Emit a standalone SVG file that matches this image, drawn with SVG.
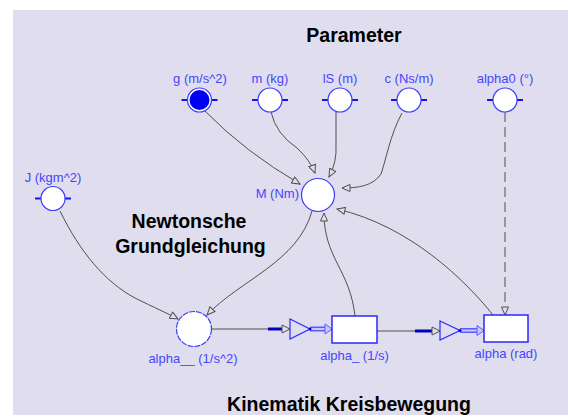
<svg xmlns="http://www.w3.org/2000/svg" width="568" height="419" viewBox="0 0 568 419">
<style>
.lbl{font-family:"Liberation Sans",Arial,sans-serif;font-size:13px;fill:#4646ff;text-anchor:middle}
.ttl{font-family:"Liberation Sans",Arial,sans-serif;font-size:19.5px;font-weight:bold;fill:#000;text-anchor:middle}
.par{fill:#fff;stroke:#3c3cff;stroke-width:1.2}
.stub{stroke:#1414e6;stroke-width:2}
.con{fill:none;stroke:#505050;stroke-width:1}
.pipeo{stroke:#5a5aff;stroke-width:5}
.pipei{stroke:#c8c8ff;stroke-width:2}
.thick{stroke:#0000b4;stroke-width:3}
.valve{fill:#dfddee;stroke:#2828ff;stroke-width:1.2}
.stock{fill:#fff;stroke:#2828ff;stroke-width:1.5}
</style>
<defs>
<marker id="ah" markerWidth="10" markerHeight="8" refX="9" refY="4" orient="auto" markerUnits="userSpaceOnUse">
<path d="M1,0.5 L9,4 L1,7.5 z" fill="#dfddee" stroke="#505050" stroke-width="1"/>
</marker>
</defs>
<rect x="13" y="10" width="555" height="405" fill="#dfddee"/>
<text class="ttl" x="354" y="42">Parameter</text>
<text class="ttl" x="189" y="228">Newtonsche</text>
<text class="ttl" x="190.5" y="252.5">Grundgleichung</text>
<text class="ttl" x="349" y="411">Kinematik Kreisbewegung</text>
<g id="connectors">
<path class="con" d="M205,111 Q245,152 300,184" marker-end="url(#ah)"/>
<path class="con" d="M271,112 Q276,134 297,148 Q310,160 315,173" marker-end="url(#ah)"/>
<path class="con" d="M336,112 L336,145 Q337,162 329,177" marker-end="url(#ah)"/>
<path class="con" d="M402,113 C390,135 386,160 381,174 C373,186 358,188 342,188" marker-end="url(#ah)"/>
<path class="con" d="M505,112 L505,315" stroke-dasharray="10,5" marker-end="url(#ah)"/>
<path class="con" d="M312,211 C298,262 240,280 207,315" marker-end="url(#ah)"/>
<path class="con" d="M60,211 C80,252 105,282 135,298 C155,308 167,313 178,319" marker-end="url(#ah)"/>
<path class="con" d="M355,316 C350,270 324,258 324,213" marker-end="url(#ah)"/>
<path class="con" d="M493,315 C465,280 410,226 337,209" marker-end="url(#ah)"/>
<line class="con" x1="211" y1="329" x2="270" y2="329"/>
<line class="thick" x1="268" y1="329" x2="283" y2="329"/>
<path d="M282,325 L290,329 L282,333 z" fill="#dfddee" stroke="#505050"/>
<line class="pipeo" x1="310" y1="329" x2="326" y2="329"/>
<line class="pipei" x1="310" y1="329" x2="326" y2="329"/>
<path d="M325,324 L332,329 L325,334 z" fill="#c8c8ff" stroke="#5a5aff"/>
<line class="con" x1="377" y1="331" x2="417" y2="331"/>
<line class="thick" x1="415" y1="331" x2="433" y2="331"/>
<path d="M432,327 L440,331 L432,335 z" fill="#dfddee" stroke="#505050"/>
<line class="pipeo" x1="460" y1="330.5" x2="478" y2="330.5"/>
<line class="pipei" x1="460" y1="330.5" x2="478" y2="330.5"/>
<path d="M477,325.5 L484,330.5 L477,335.5 z" fill="#c8c8ff" stroke="#5a5aff"/>
</g>
<g id="valve1">
<path class="valve" d="M290,319 L310,329 L290,339 z"/>
<circle cx="310" cy="329" r="1.5" fill="#0000e6"/>
</g>
<g id="valve2">
<path class="valve" d="M440,321 L460,330.5 L440,340 z"/>
<circle cx="460" cy="330.5" r="1.5" fill="#0000e6"/>
</g>
<g id="g">
<text class="lbl" x="200" y="83">g (m/s^2)</text>
<line class="stub" x1="181.5" y1="100" x2="187.5" y2="100"/>
<line class="stub" x1="211.5" y1="100" x2="217.5" y2="100"/>
<circle cx="199.5" cy="100" r="12" fill="#fff" stroke="#3c3cff" stroke-width="1.2"/>
<circle cx="199.5" cy="100" r="10" fill="#0000f0"/>
</g>
<g id="m">
<text class="lbl" x="270" y="83">m (kg)</text>
<line class="stub" x1="252" y1="100" x2="258" y2="100"/>
<line class="stub" x1="282" y1="100" x2="288" y2="100"/>
<circle class="par" cx="270" cy="100" r="12"/>
</g>
<g id="IS">
<text class="lbl" x="340" y="83">lS (m)</text>
<line class="stub" x1="322" y1="100" x2="328" y2="100"/>
<line class="stub" x1="352" y1="100" x2="358" y2="100"/>
<circle class="par" cx="340" cy="100" r="12"/>
</g>
<g id="c">
<text class="lbl" x="409" y="83">c (Ns/m)</text>
<line class="stub" x1="391" y1="100" x2="397" y2="100"/>
<line class="stub" x1="421" y1="100" x2="427" y2="100"/>
<circle class="par" cx="409" cy="100" r="12"/>
</g>
<g id="alpha0">
<text class="lbl" x="505" y="83">alpha0 (°)</text>
<line class="stub" x1="487" y1="100" x2="493" y2="100"/>
<line class="stub" x1="517" y1="100" x2="523" y2="100"/>
<circle class="par" cx="505" cy="100" r="12"/>
</g>
<g id="J">
<text class="lbl" x="53" y="182">J (kgm^2)</text>
<line class="stub" x1="35" y1="198.5" x2="41" y2="198.5"/>
<line class="stub" x1="65" y1="198.5" x2="71" y2="198.5"/>
<circle class="par" cx="53" cy="198.5" r="12"/>
</g>
<g id="M">
<text class="lbl" x="299" y="198" style="text-anchor:end">M (Nm)</text>
<circle class="par" cx="318" cy="195" r="16.5"/>
</g>
<g id="alpha__">
<circle cx="194" cy="329" r="17.5" fill="#fff" stroke="#3c3cff" stroke-width="1.2" stroke-dasharray="6,1"/>
<text class="lbl" x="193" y="363">alpha__ (1/s^2)</text>
</g>
<g id="alpha_">
<rect class="stock" x="332" y="316" width="45" height="27"/>
<text class="lbl" x="354.5" y="360">alpha_ (1/s)</text>
</g>
<g id="alpha">
<rect class="stock" x="484" y="315" width="44" height="27"/>
<text class="lbl" x="506" y="358">alpha (rad)</text>
</g>
</svg>
